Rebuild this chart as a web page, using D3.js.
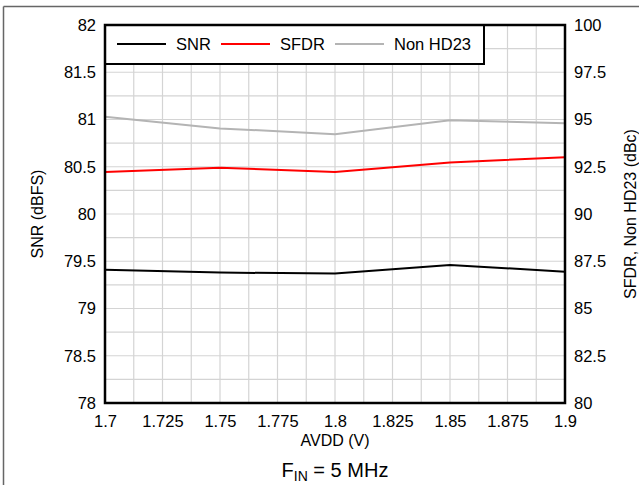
<!DOCTYPE html>
<html>
<head>
<meta charset="utf-8">
<script src="https://cdn.jsdelivr.net/npm/d3@7"></script>
<style>
  body { margin: 0; background: #fff; }
  text { font-family: "Liberation Sans", Arial, sans-serif; fill: #000; }
</style>
</head>
<body>
<div id="chart"></div>
<script>
// data
var avdd = [1.7, 1.75, 1.8, 1.85, 1.9];
var snr = [79.41, 79.38, 79.37, 79.46, 79.39];
var sfdr = [92.22, 92.45, 92.22, 92.73, 93.0];
var nonHd23 = [95.15, 94.53, 94.22, 94.96, 94.8];
var xTicks = [1.7, 1.725, 1.75, 1.775, 1.8, 1.825, 1.85, 1.875, 1.9];
var leftTicks = [78, 78.5, 79, 79.5, 80, 80.5, 81, 81.5, 82];
var rightTicks = [80, 82.5, 85, 87.5, 90, 92.5, 95, 97.5, 100];

var width = 639, height = 485;
var plotL = 105, plotR = 565, plotT = 25, plotB = 403;

var svg = d3.select("#chart").append("svg")
  .attr("width", width).attr("height", height);

// outer frame lines
svg.append("line").attr("x1", 3.5).attr("x2", width).attr("y1", 6.5).attr("y2", 6.5)
  .attr("stroke", "#666").attr("stroke-width", 1.5);
svg.append("line").attr("x1", 3.5).attr("x2", 3.5).attr("y1", 6.5).attr("y2", height)
  .attr("stroke", "#666").attr("stroke-width", 1.5);

var x = d3.scaleLinear().domain([1.7, 1.9]).range([plotL, plotR]);
var yL = d3.scaleLinear().domain([78, 82]).range([plotB, plotT]);
var yR = d3.scaleLinear().domain([80, 100]).range([plotB, plotT]);

// grid (minor lines at half steps)
var gx = d3.range(0, 17).map(function(i){ return 1.7 + i * 0.0125; });
var gy = d3.range(0, 17).map(function(i){ return 78 + i * 0.25; });
svg.append("g").selectAll("line").data(gx).enter().append("line")
  .attr("x1", function(d){ return x(d); }).attr("x2", function(d){ return x(d); })
  .attr("y1", plotT).attr("y2", plotB)
  .attr("stroke", "#d4d4d4").attr("stroke-width", 1.2);
svg.append("g").selectAll("line").data(gy).enter().append("line")
  .attr("x1", plotL).attr("x2", plotR)
  .attr("y1", function(d){ return yL(d); }).attr("y2", function(d){ return yL(d); })
  .attr("stroke", "#d4d4d4").attr("stroke-width", 1.2);

// series
var line = function(ys, scale) {
  return d3.line()
    .x(function(d, i){ return x(avdd[i]); })
    .y(function(d){ return scale(d); })(ys);
};
svg.append("path").attr("d", line(nonHd23, yR)).attr("fill", "none")
  .attr("stroke", "#b4b4b4").attr("stroke-width", 2);
svg.append("path").attr("d", line(sfdr, yR)).attr("fill", "none")
  .attr("stroke", "#ff0000").attr("stroke-width", 2);
svg.append("path").attr("d", line(snr, yL)).attr("fill", "none")
  .attr("stroke", "#000").attr("stroke-width", 2);

// legend
var lg = svg.append("g");
lg.append("rect").attr("x", plotL).attr("y", plotT).attr("width", 379).attr("height", 39)
  .attr("fill", "#fff").attr("stroke", "#000").attr("stroke-width", 2);
var legendItems = [
  { name: "SNR", color: "#000", x: 117 },
  { name: "SFDR", color: "#ff0000", x: 221 },
  { name: "Non HD23", color: "#b4b4b4", x: 335 }
];
legendItems.forEach(function(d) {
  lg.append("line").attr("x1", d.x).attr("x2", d.x + 49).attr("y1", 44).attr("y2", 44)
    .attr("stroke", d.color).attr("stroke-width", 2);
  lg.append("text").attr("x", d.x + 59).attr("y", 50).style("font-size", "16.5px").text(d.name);
});

// plot border
svg.append("rect").attr("x", plotL).attr("y", plotT).attr("width", plotR - plotL).attr("height", plotB - plotT)
  .attr("fill", "none").attr("stroke", "#000").attr("stroke-width", 2.5);

// axes (tick labels only)
svg.append("g").attr("transform", "translate(" + plotL + ",0)")
  .call(d3.axisLeft(yL).tickValues(leftTicks).tickSize(0).tickPadding(9).tickFormat(d3.format("")))
  .call(function(g){ g.select(".domain").remove(); })
  .selectAll("text").style("font-size", "16.5px").style("font-family", "Liberation Sans, Arial, sans-serif");
svg.append("g").attr("transform", "translate(" + plotR + ",0)")
  .call(d3.axisRight(yR).tickValues(rightTicks).tickSize(0).tickPadding(9).tickFormat(d3.format("")))
  .call(function(g){ g.select(".domain").remove(); })
  .selectAll("text").style("font-size", "16.5px").style("font-family", "Liberation Sans, Arial, sans-serif");
svg.append("g").attr("transform", "translate(0," + plotB + ")")
  .call(d3.axisBottom(x).tickValues(xTicks).tickSize(0).tickPadding(12).tickFormat(d3.format("")))
  .call(function(g){ g.select(".domain").remove(); })
  .selectAll("text").style("font-size", "16.5px").style("font-family", "Liberation Sans, Arial, sans-serif");

// titles
svg.append("text").attr("transform", "translate(43,214) rotate(-90)")
  .attr("text-anchor", "middle").style("font-size", "16px").text("SNR (dBFS)");
svg.append("text").attr("transform", "translate(636,214) rotate(-90)")
  .attr("text-anchor", "middle").style("font-size", "16px").text("SFDR, Non HD23 (dBc)");
svg.append("text").attr("x", 335).attr("y", 446).attr("text-anchor", "middle")
  .style("font-size", "16px").text("AVDD (V)");
var fin = svg.append("text").attr("x", 335).attr("y", 477).attr("text-anchor", "middle")
  .style("font-size", "20px");
fin.append("tspan").text("F");
fin.append("tspan").attr("dy", 4).style("font-size", "14px").text("IN");
fin.append("tspan").attr("dy", -4).text(" = 5 MHz");
</script>
</body>
</html>
